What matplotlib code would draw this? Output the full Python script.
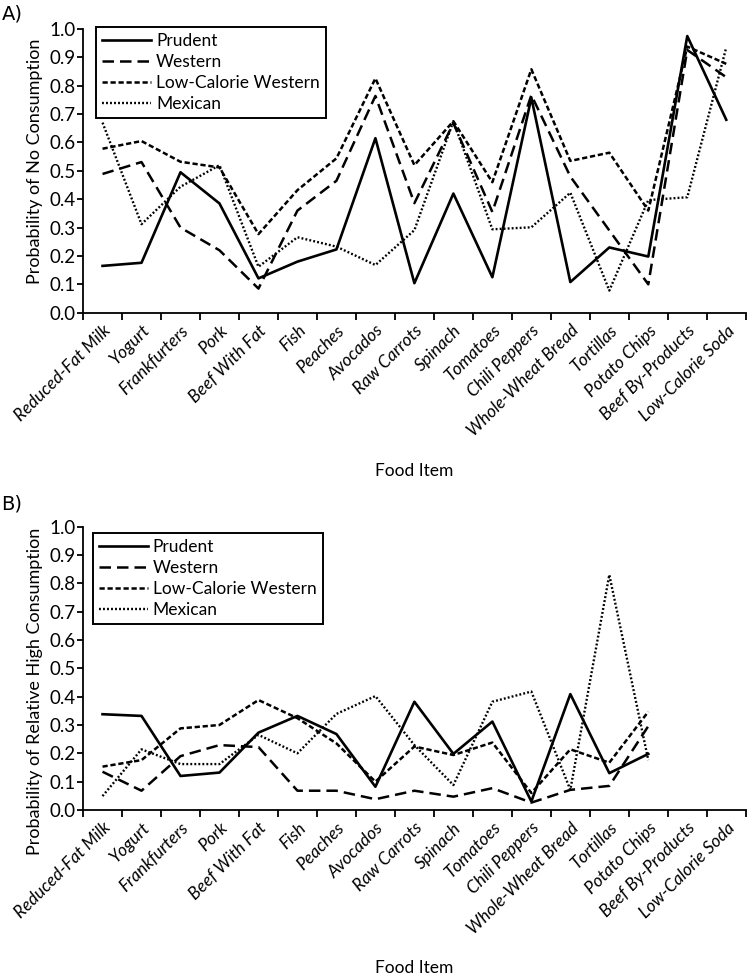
import numpy as np
import matplotlib
matplotlib.use("Agg")
import matplotlib.pyplot as plt

plt.rcParams['font.family'] = ['Lato', 'DejaVu Sans']

foods = ['Reduced-Fat Milk', 'Yogurt', 'Frankfurters', 'Pork', 'Beef With Fat',
         'Fish', 'Peaches', 'Avocados', 'Raw Carrots', 'Spinach', 'Tomatoes',
         'Chili Peppers', 'Whole-Wheat Bread', 'Tortillas', 'Potato Chips',
         'Beef By-Products', 'Low-Calorie Soda']

# A) probability of no consumption
a_prudent = [0.165, 0.176, 0.495, 0.385, 0.121, 0.18, 0.223, 0.615, 0.104, 0.42,
             0.125, 0.758, 0.108, 0.23, 0.198, 0.975, 0.68]
a_western = [0.489, 0.531, 0.30, 0.22, 0.085, 0.36, 0.465, 0.764, 0.386, 0.668,
             0.355, 0.767, 0.48, 0.29, 0.10, 0.926, 0.83]
a_lowcal = [0.578, 0.605, 0.532, 0.512, 0.277, 0.432, 0.544, 0.826, 0.52, 0.675,
            0.46, 0.858, 0.535, 0.564, 0.36, 0.938, 0.877]
a_mexican = [0.67, 0.312, 0.444, 0.52, 0.162, 0.266, 0.233, 0.168, 0.291, 0.675,
             0.294, 0.301, 0.423, 0.078, 0.397, 0.407, 0.935]

# B) probability of relative high consumption (no values for the last two foods)
nan = np.nan
b_prudent = [0.338, 0.332, 0.12, 0.132, 0.273, 0.332, 0.268, 0.082, 0.382, 0.198,
             0.312, 0.03, 0.409, 0.13, 0.198, nan, nan]
b_western = [0.135, 0.068, 0.19, 0.229, 0.222, 0.068, 0.068, 0.038, 0.068, 0.047,
             0.077, 0.026, 0.071, 0.085, 0.296, nan, nan]
b_lowcal = [0.153, 0.176, 0.288, 0.30, 0.388, 0.324, 0.235, 0.1, 0.224, 0.194,
            0.238, 0.06, 0.214, 0.167, 0.347, nan, nan]
b_mexican = [0.049, 0.214, 0.162, 0.162, 0.265, 0.2, 0.339, 0.402, 0.229, 0.088,
             0.382, 0.418, 0.071, 0.83, 0.176, nan, nan]

series_names = ['Prudent', 'Western', 'Low-Calorie Western', 'Mexican']
styles = [dict(ls='-', lw=1.9),
          dict(ls=(0, (4.6, 2.4)), lw=1.8),
          dict(ls=(0, (2.1, 1.1)), lw=1.8),
          dict(ls=(0, (0.8, 0.9)), lw=1.7)]

fig = plt.figure(figsize=(7.48, 9.76), dpi=100)
ax_a = fig.add_axes([0.111, 0.6796, 0.886, 0.2907])
ax_b = fig.add_axes([0.111, 0.1701, 0.886, 0.2903])

x = np.arange(len(foods)) + 0.5


def draw(ax, data, ylabel, ylab_y, leg_anchor):
    for vals, name, st in zip(data, series_names, styles):
        ax.plot(x, vals, color='black', label=name, clip_on=False, **st)
    ax.set_xlim(0, len(foods))
    ax.set_ylim(0, 1.0)
    ax.set_yticks(np.arange(0, 1.01, 0.1))
    ax.set_yticklabels(['%.1f' % v for v in np.arange(0, 1.01, 0.1)], fontsize=13.5)
    ax.set_xticks(np.arange(len(foods) + 1))
    ax.set_xticklabels([])
    ax.set_xticks(x, minor=True)
    ax.set_xticklabels(foods, minor=True, rotation=45, ha='right',
                       rotation_mode='anchor', fontsize=12.5, style='italic')
    ax.tick_params(axis='x', which='major', direction='out', length=5, width=1.3)
    ax.tick_params(axis='x', which='minor', length=0, pad=7)
    ax.tick_params(axis='y', direction='out', length=4, width=1.3, pad=1.5)
    for s in ['top', 'right']:
        ax.spines[s].set_visible(False)
    for s in ['left', 'bottom']:
        ax.spines[s].set_linewidth(1.3)
    ax.set_ylabel(ylabel, fontsize=13)
    ax.yaxis.set_label_coords(-0.06, ylab_y)
    ax.set_xlabel('Food Item', fontsize=12.5)
    ax.xaxis.set_label_coords(0.5, -0.53)
    leg = ax.legend(loc='upper left', bbox_to_anchor=leg_anchor, borderaxespad=0,
                    fontsize=12.5, handlelength=2.8, labelspacing=0.3,
                    handletextpad=0.3, borderpad=0.35, fancybox=False,
                    framealpha=1)
    leg.get_frame().set_edgecolor('black')
    leg.get_frame().set_linewidth(1.4)


draw(ax_a, [a_prudent, a_western, a_lowcal, a_mexican],
     'Probability of No Consumption', 0.535, (0.0196, 1.008))
draw(ax_b, [b_prudent, b_western, b_lowcal, b_mexican],
     'Probability of Relative High Consumption', 0.42, (0.015, 0.979))

fig.text(0.002, 0.986, 'A)', fontsize=14, family='DejaVu Sans', va='center')
fig.text(0.002, 0.484, 'B)', fontsize=14, family='DejaVu Sans', va='center')

fig.savefig('out.png', dpi=100)
